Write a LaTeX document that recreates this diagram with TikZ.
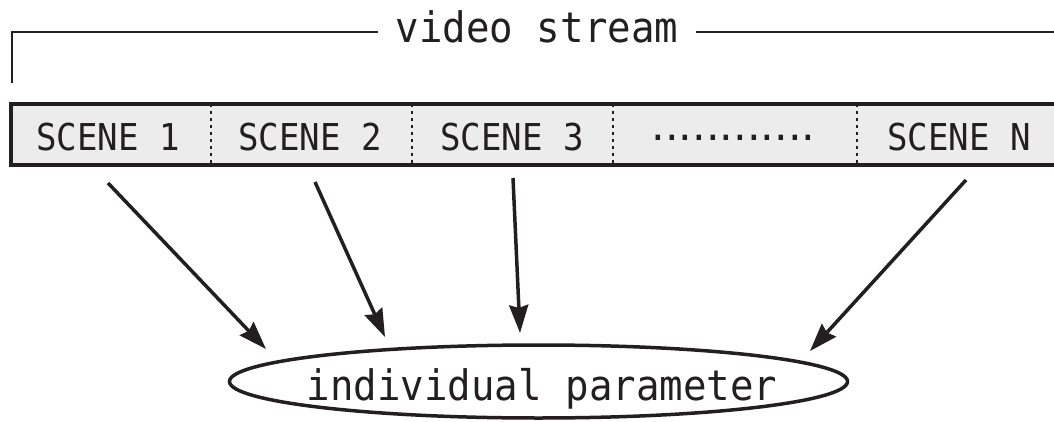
\documentclass[tikz,border=0pt]{standalone}
\usepackage{fontspec}
\usetikzlibrary{arrows.meta,shapes.geometric}
\newfontfamily\monofont[FakeStretch=0.93]{DejaVu Sans Mono}
\newfontfamily\scenefont[FakeStretch=0.92]{DejaVu Sans Mono}
\newfontfamily\dotfont{DejaVu Sans}
\definecolor{ink}{HTML}{231F20}
\definecolor{boxfill}{HTML}{ECECEC}
\tikzset{
  scenetext/.style={anchor=base, inner sep=0pt, text=ink, font=\scenefont\fontsize{37}{43}\selectfont},
  bigtext/.style={anchor=base, inner sep=0pt, text=ink, font=\monofont\fontsize{42}{48}\selectfont},
  divider/.style={ink, line width=1.5pt, dash pattern=on 3.5pt off 3.5pt},
  bracketline/.style={ink, line width=1.8pt},
  arr/.style={ink, line width=3.5pt, -{Stealth[length=28pt,width=19pt,inset=3pt]}},
}
\begin{document}
\begin{tikzpicture}[x=1pt,y=-1pt]
\useasboundingbox (0,0) rectangle (1054,422);
\fill[white] (0,0) rectangle (1054,422);

% scene strip
\fill[boxfill] (10.5,104) rectangle (1060,165);
\foreach \x in {211,412,613,857} \draw[divider] (\x,104) -- (\x,165);
\draw[ink, line width=4pt, line join=miter] (1060,104) -- (10.5,104) -- (10.5,165) -- (1060,165);

\node[scenetext] (s1) at (108,151) {SCENE 1};
\node[scenetext] (s2) at (310,151) {SCENE 2};
\node[scenetext] (s3) at (512,151) {SCENE 3};
\node[anchor=base, inner sep=0pt, text=ink, font=\dotfont\fontsize{43}{50}\selectfont] (sd) at (733.5,140.5) {............};
\node[scenetext] (sn) at (959,151) {SCENE N};

% video stream bracket
\node[bigtext, inner xsep=18pt] (vs) at (537,43) {video stream};
\coordinate (bkb) at (12,83);
\coordinate (bk) at (12,32);
\coordinate (bkr) at (1056,32);
\draw[bracketline] (bkb) -- (bk) -- (bk -| vs.west);
\draw[bracketline] (vs.east |- bk) -- (bkr);

% ellipse
\node[ellipse, draw=ink, line width=3.5pt, minimum width=618pt, minimum height=73pt, inner sep=0pt] (ell) at (538.5,381.5) {};
\node[bigtext] (ip) at (542,400) {individual parameter};

% arrows
\draw[arr] ([yshift=-32pt]s1.base) -- ([xshift=-272.5pt,yshift=32.5pt]ell.center);
\draw[arr] ([xshift=5pt,yshift=-31pt]s2.base) -- ([xshift=-153.5pt,yshift=44.5pt]ell.center);
\draw[arr] ([xshift=1pt,yshift=-27pt]s3.base) -- ([xshift=-18.5pt,yshift=48.5pt]ell.center);
\draw[arr] ([xshift=7pt,yshift=-29pt]sn.base) -- ([xshift=271.5pt,yshift=30.5pt]ell.center);
\end{tikzpicture}
\end{document}
